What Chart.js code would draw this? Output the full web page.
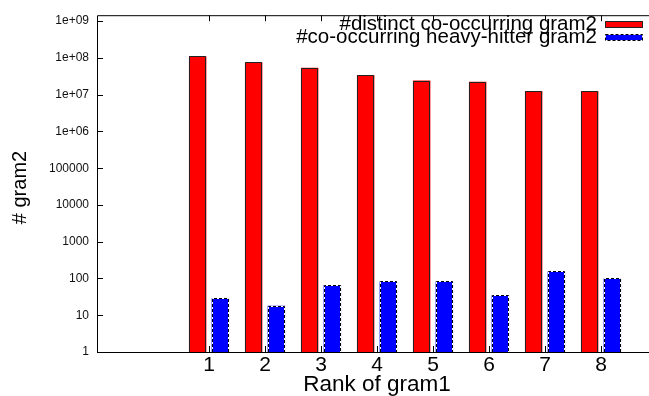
<!DOCTYPE html>
<html>
<head>
<meta charset="utf-8">
<script src="https://cdn.jsdelivr.net/npm/chart.js@4"></script>
<style>
  html, body { margin: 0; padding: 0; width: 649px; height: 396px; overflow: hidden; background: #fff; }
  canvas { display: block; }
</style>
</head>
<body>
<canvas id="c" width="660" height="396"></canvas>
<script>
// Rank of gram1 (x categories)
const ranks = [1, 2, 3, 4, 5, 6, 7, 8];
// number of distinct gram2 co-occurring with each gram1
const distinctGram2 = [1.11e8, 7.65e7, 5.37e7, 3.41e7, 2.43e7, 2.25e7, 1.26e7, 1.26e7];
// number of heavy-hitter gram2 co-occurring with each gram1
const heavyHitterGram2 = [29, 18, 66, 83, 83, 35, 155, 100];
// y axis ticks (log scale) and their labels
const yTickValues = [1, 10, 100, 1000, 10000, 100000, 1e6, 1e7, 1e8, 1e9];
const yTickLabels = ['1', '10', '100', '1000', '10000', '100000', '1e+06', '1e+07', '1e+08', '1e+09'];
const seriesLabels = ['#distinct co-occurring gram2', '#co-occurring heavy-hitter gram2'];

const FONT = '"Liberation Sans", Arial, Helvetica, sans-serif';

// outline of a bar (left, top, right edges), solid or dashed
function outlineBar(ctx, bar, dashed) {
  const p = bar.getProps(['x', 'y', 'base', 'width'], true);
  const l = Math.round(p.x - p.width / 2) + 0.5;
  const r = Math.round(p.x + p.width / 2) - 0.5;
  const t = Math.round(p.y) + 0.5;
  const b = p.base;
  ctx.lineWidth = 1;
  ctx.beginPath();
  ctx.moveTo(l, b); ctx.lineTo(l, t); ctx.lineTo(r, t); ctx.lineTo(r, b);
  if (dashed) {
    ctx.setLineDash([]);
    ctx.strokeStyle = '#fff';
    ctx.stroke();
    ctx.setLineDash([3, 2]);
    ctx.strokeStyle = '#000';
  } else {
    ctx.setLineDash([]);
    ctx.strokeStyle = '#222';
  }
  ctx.stroke();
}

// Frame, inward tick marks, bar outlines, y title and legend
const gnuplotDecor = {
  id: 'gnuplotDecor',
  afterDatasetsDraw(chart) {
    const ctx = chart.ctx;
    ctx.save();
    chart.getDatasetMeta(0).data.forEach(bar => outlineBar(ctx, bar, false));
    chart.getDatasetMeta(1).data.forEach(bar => outlineBar(ctx, bar, true));
    ctx.restore();
  },
  afterDraw(chart) {
    const ctx = chart.ctx;
    const a = chart.chartArea;
    const xs = chart.scales.x, ys = chart.scales.y;
    ctx.save();
    ctx.strokeStyle = '#000';
    ctx.lineWidth = 1;
    ctx.setLineDash([]);
    // frame: left, top, bottom
    ctx.beginPath();
    ctx.moveTo(a.left + 0.5, a.bottom + 0.5);
    ctx.lineTo(a.left + 0.5, a.top + 0.5);
    ctx.lineTo(a.right + 5, a.top + 0.5);
    ctx.moveTo(a.left, a.bottom + 0.5);
    ctx.lineTo(a.right + 5, a.bottom + 0.5);
    ctx.stroke();
    // inward tick marks
    ctx.beginPath();
    yTickValues.forEach(v => {
      const y = Math.round(ys.getPixelForValue(v)) + 0.5;
      ctx.moveTo(a.left, y); ctx.lineTo(a.left + 6, y);
    });
    ranks.forEach(v => {
      const x = Math.round(xs.getPixelForValue(v)) + 0.5;
      ctx.moveTo(x, a.bottom); ctx.lineTo(x, a.bottom - 6);
      ctx.moveTo(x, a.top); ctx.lineTo(x, a.top + 6);
    });
    ctx.stroke();

    // y axis title
    ctx.fillStyle = '#000';
    ctx.font = '20px ' + FONT;
    ctx.save();
    ctx.translate(26, 187.5);
    ctx.rotate(-Math.PI / 2);
    ctx.textAlign = 'center';
    ctx.textBaseline = 'alphabetic';
    ctx.fillText('# gram2', 0, 0);
    ctx.restore();

    // legend (top right, inside the plot)
    ctx.font = '20.5px ' + FONT;
    const colors = chart.data.datasets.map(d => d.backgroundColor);
    const textRight = a.right - 60;
    const boxL = a.right - 52, boxR = a.right - 14;
    const rows = [{ cy: 24.7, dashed: false }, { cy: 37.8, dashed: true }];
    ctx.textAlign = 'right';
    ctx.textBaseline = 'middle';
    rows.forEach((row, i) => {
      ctx.fillStyle = '#000';
      ctx.fillText(seriesLabels[i], textRight, row.cy);
      const top = Math.round(row.cy - 3.5), h = 7;
      ctx.fillStyle = colors[i];
      ctx.fillRect(boxL, top, boxR - boxL, h);
      ctx.beginPath();
      ctx.rect(boxL + 0.5, top + 0.5, boxR - boxL - 1, h - 1);
      if (row.dashed) {
        ctx.strokeStyle = '#fff';
        ctx.setLineDash([]);
        ctx.stroke();
        ctx.setLineDash([3, 2]);
      } else {
        ctx.setLineDash([]);
      }
      ctx.strokeStyle = row.dashed ? '#000' : '#222';
      ctx.stroke();
    });
    ctx.restore();
  }
};

new Chart(document.getElementById('c'), {
  type: 'bar',
  data: {
    datasets: [
      {
        label: seriesLabels[0],
        data: ranks.map((r, i) => ({ x: r, y: distinctGram2[i] })),
        backgroundColor: '#ff0000',
        borderWidth: 0
      },
      {
        label: seriesLabels[1],
        data: ranks.map((r, i) => ({ x: r, y: heavyHitterGram2[i] })),
        backgroundColor: '#0000ff',
        borderWidth: 0
      }
    ]
  },
  options: {
    responsive: false,
    animation: false,
    devicePixelRatio: 1,
    categoryPercentage: 0.81,
    barPercentage: 0.77,
    layout: { padding: { top: 13, right: 3, left: 0, bottom: 0 } },
    plugins: { legend: { display: false }, tooltip: { enabled: false } },
    scales: {
      x: {
        type: 'linear',
        min: -1,
        max: 9,
        offset: false,
        grid: { display: false, drawTicks: false, offset: false },
        border: { display: false },
        afterBuildTicks(scale) { scale.ticks = ranks.map(v => ({ value: v })); },
        afterFit(scale) { scale.height = 44; },
        ticks: {
          autoSkip: false,
          maxRotation: 0,
          padding: 3,
          color: '#000',
          font: { family: FONT, size: 21, lineHeight: 1 },
          callback: v => String(v)
        },
        title: {
          display: true,
          text: 'Rank of gram1',
          color: '#000',
          font: { family: FONT, size: 22.5, lineHeight: 1 },
          padding: { top: 0, bottom: 0 }
        }
      },
      y: {
        type: 'logarithmic',
        min: 1,
        max: 1.452e9,
        grid: { display: false, drawTicks: false },
        border: { display: false },
        afterBuildTicks(scale) { scale.ticks = yTickValues.map(v => ({ value: v })); },
        afterFit(scale) { scale.width = 97; },
        ticks: {
          autoSkip: false,
          padding: 8,
          color: '#111',
          font: { family: FONT, size: 12 },
          callback: (v, i) => yTickLabels[i]
        }
      }
    }
  },
  plugins: [gnuplotDecor]
});
</script>
</body>
</html>
